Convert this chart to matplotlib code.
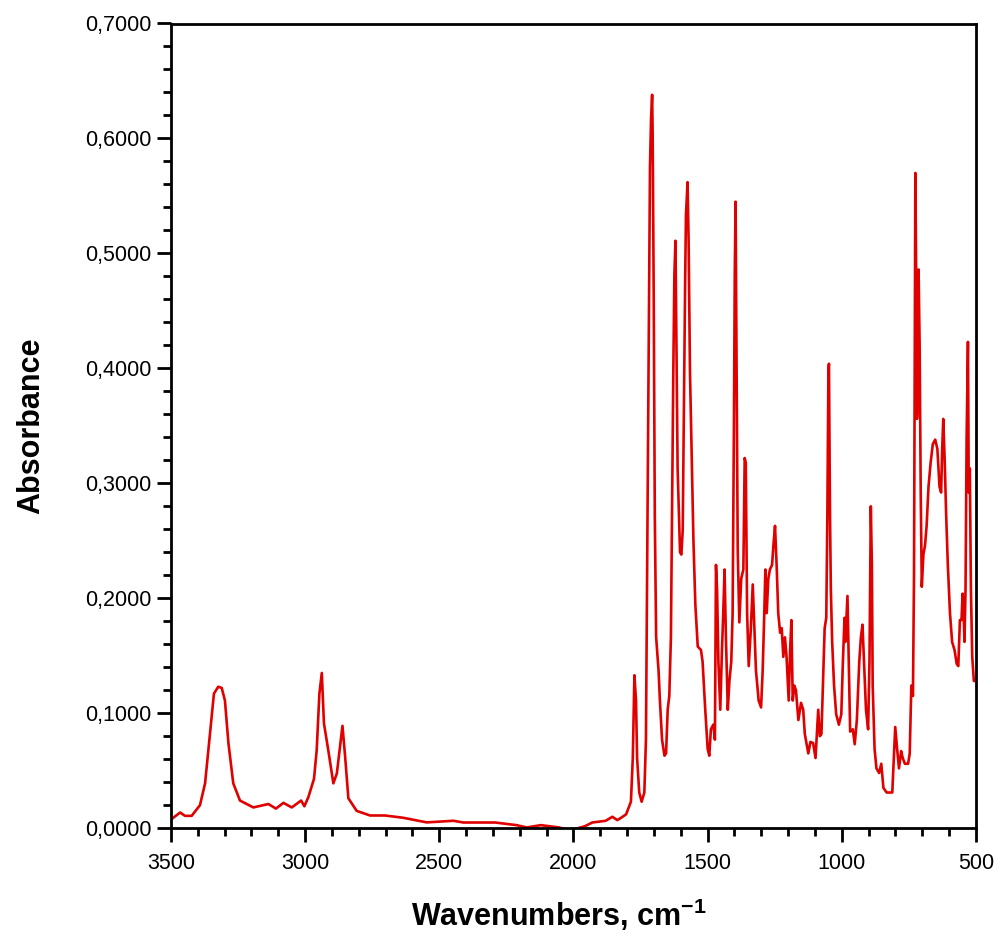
import matplotlib
matplotlib.use("Agg")
import matplotlib.pyplot as plt
from matplotlib.ticker import MultipleLocator, FuncFormatter

# wavenumber (cm-1) and absorbance
wavenumber = [
    3500, 3466, 3448, 3423, 3392, 3373, 3355, 3340, 3324, 3311, 3299, 3286,
    3268, 3243, 3193, 3137, 3109, 3081, 3050, 3015, 3003, 2988, 2967, 2957,
    2947, 2938, 2930, 2914, 2895, 2882, 2861, 2851, 2839, 2808, 2758, 2702,
    2634, 2547, 2448, 2410, 2292, 2212, 2174, 2122, 2054, 2013, 1957, 1930,
    1880, 1855, 1837, 1829, 1804, 1786, 1779, 1773, 1767, 1763, 1755, 1746,
    1736, 1730, 1724, 1720, 1715, 1711, 1707, 1705, 1701, 1697, 1692, 1683,
    1678, 1670, 1661, 1655, 1649, 1643, 1637, 1633, 1628, 1624, 1620, 1616,
    1612, 1608, 1603, 1598, 1593, 1589, 1584, 1581, 1575, 1571, 1566, 1558,
    1553, 1546, 1537, 1525, 1519, 1509, 1500, 1494, 1488, 1479, 1473, 1469,
    1465, 1460, 1453, 1447, 1442, 1437, 1432, 1425, 1419, 1412, 1407, 1402,
    1399, 1396, 1392, 1388, 1382, 1375, 1367, 1362, 1358, 1353, 1347, 1339,
    1332, 1326, 1320, 1310, 1301, 1295, 1289, 1285, 1280, 1274, 1268, 1260,
    1255, 1249, 1243, 1237, 1230, 1224, 1218, 1212, 1206, 1198, 1193, 1188,
    1183, 1177, 1171, 1162, 1152, 1144, 1138, 1125, 1117, 1107, 1098, 1088,
    1082, 1076, 1070, 1064, 1058, 1054, 1050, 1048, 1044, 1041, 1036, 1029,
    1021, 1011, 1002, 996, 990, 987, 979, 974, 969, 959, 952, 944,
    935, 929, 923, 916, 910, 902, 897, 892, 888, 885, 878, 871,
    861, 853, 845, 833, 812, 806, 801, 794, 787, 779, 773, 765,
    753, 747, 741, 735, 731, 729, 726, 723, 720, 716, 714, 710,
    706, 702, 696, 690, 684, 677, 669, 661, 652, 644, 636, 630,
    626, 622, 617, 611, 605, 597, 589, 580, 572, 566, 560, 554,
    550, 546, 543, 539, 535, 530, 527, 523, 519, 514, 508, 500,
]
absorbance = [
    0.0075, 0.0136, 0.0107, 0.0107, 0.020, 0.039, 0.082, 0.117, 0.123, 0.122, 0.111, 0.074,
    0.039, 0.024, 0.018, 0.021, 0.017, 0.022, 0.018, 0.024, 0.019, 0.027, 0.043, 0.068,
    0.117, 0.135, 0.091, 0.068, 0.039, 0.0475, 0.089, 0.062, 0.026, 0.015, 0.011, 0.011,
    0.009, 0.005, 0.0064, 0.0049, 0.0049, 0.0026, 0.0006, 0.0026, 0.0006, -0.002, 0.0017, 0.0049,
    0.0064, 0.0099, 0.007, 0.008, 0.012, 0.023, 0.061, 0.133, 0.111, 0.061, 0.031, 0.023,
    0.031, 0.077, 0.271, 0.398, 0.575, 0.617, 0.638, 0.604, 0.461, 0.271, 0.166, 0.137,
    0.111, 0.077, 0.063, 0.065, 0.103, 0.115, 0.166, 0.271, 0.398, 0.482, 0.511, 0.415,
    0.313, 0.280, 0.240, 0.238, 0.259, 0.356, 0.474, 0.533, 0.562, 0.511, 0.398, 0.305,
    0.250, 0.195, 0.158, 0.155, 0.145, 0.103, 0.069, 0.063, 0.086, 0.090, 0.077, 0.229,
    0.208, 0.145, 0.103, 0.153, 0.187, 0.225, 0.166, 0.103, 0.128, 0.145, 0.187, 0.356,
    0.482, 0.545, 0.398, 0.242, 0.179, 0.217, 0.225, 0.322, 0.318, 0.187, 0.141, 0.174,
    0.212, 0.174, 0.137, 0.111, 0.105, 0.137, 0.187, 0.225, 0.187, 0.217, 0.225, 0.229,
    0.246, 0.263, 0.229, 0.187, 0.170, 0.174, 0.149, 0.166, 0.149, 0.111, 0.153, 0.181,
    0.111, 0.124, 0.120, 0.094, 0.109, 0.103, 0.082, 0.065, 0.075, 0.074, 0.061, 0.103,
    0.080, 0.082, 0.128, 0.174, 0.183, 0.271, 0.398, 0.404, 0.271, 0.208, 0.162, 0.124,
    0.099, 0.090, 0.099, 0.145, 0.183, 0.162, 0.202, 0.145, 0.084, 0.086, 0.073, 0.094,
    0.145, 0.166, 0.177, 0.137, 0.103, 0.086, 0.145, 0.280, 0.229, 0.124, 0.069, 0.052,
    0.048, 0.056, 0.035, 0.031, 0.031, 0.061, 0.088, 0.069, 0.052, 0.067, 0.061, 0.056,
    0.056, 0.065, 0.124, 0.115, 0.221, 0.356, 0.570, 0.482, 0.356, 0.377, 0.486, 0.419,
    0.292, 0.210, 0.238, 0.246, 0.263, 0.297, 0.318, 0.334, 0.338, 0.330, 0.297, 0.292,
    0.330, 0.356, 0.322, 0.271, 0.229, 0.187, 0.162, 0.155, 0.143, 0.141, 0.181, 0.181,
    0.204, 0.187, 0.162, 0.208, 0.339, 0.423, 0.292, 0.313, 0.208, 0.149, 0.128, 0.128,
]

plt.rcParams['font.family'] = ['Liberation Sans', 'DejaVu Sans']
plt.rcParams['mathtext.fontset'] = 'custom'
plt.rcParams['mathtext.rm'] = 'Liberation Sans'
plt.rcParams['mathtext.bf'] = 'Liberation Sans:bold'

fig = plt.figure(figsize=(10, 9.4), dpi=100)
ax = fig.add_axes([0.171, 0.119, 0.805, 0.856])

ax.plot(wavenumber, absorbance, color='#e00000', linewidth=1.9)

ax.set_xlim(3500, 500)
ax.set_ylim(0, 0.7)

ax.xaxis.set_major_locator(MultipleLocator(500))
ax.xaxis.set_minor_locator(MultipleLocator(100))
ax.yaxis.set_major_locator(MultipleLocator(0.1))
ax.yaxis.set_minor_locator(MultipleLocator(0.02))
ax.yaxis.set_major_formatter(FuncFormatter(lambda v, p: f"{v:.4f}".replace('.', ',')))

ax.tick_params(which='major', direction='out', length=10, width=2, labelsize=15.5)
ax.tick_params(which='minor', direction='out', length=5.5, width=2)
ax.tick_params(axis='x', which='major', pad=8)
ax.tick_params(axis='y', which='major', pad=4)
for s in ax.spines.values():
    s.set_linewidth(2)

ax.set_xlabel(r'Wavenumbers, cm$^{\mathbf{-1}}$', fontsize=22, fontweight='bold')
ax.set_ylabel('Absorbance', fontsize=22, fontweight='bold')
ax.xaxis.set_label_coords(0.482, -0.085)
ax.yaxis.set_label_coords(-0.155, 0.5)

fig.savefig('out.png', dpi=100)
